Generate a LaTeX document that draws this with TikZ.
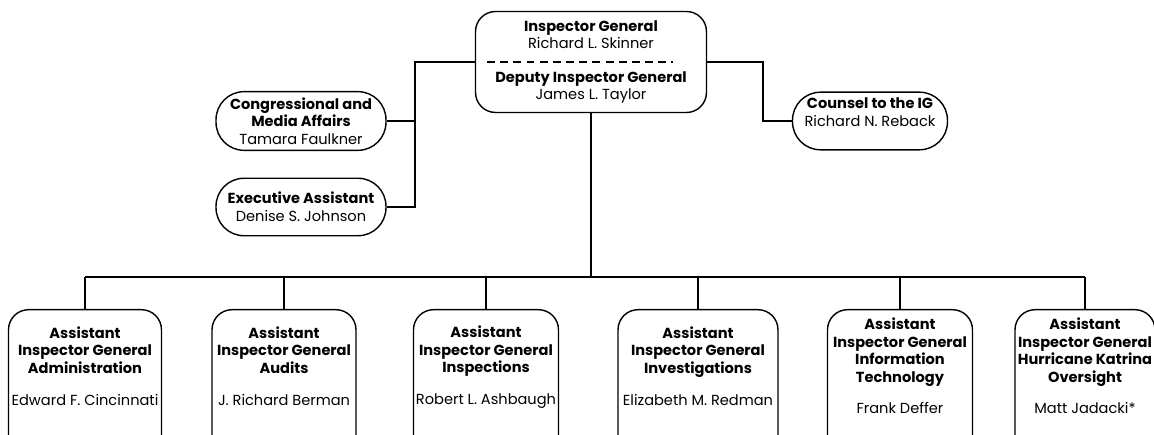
\documentclass[tikz,border=0pt]{standalone}
\usepackage{fontspec}
\setmainfont{Poppins}
\begin{document}
\begin{tikzpicture}[x=0.02cm, y=-0.02cm, line width=0.8pt,
	every node/.style={font=\fontsize{8.3}{10}\selectfont, align=center},
	headbox/.style={draw, rounded corners=0.4cm, minimum width=4.62cm, minimum height=2.02cm},
	pillbox/.style={draw, rounded corners=0.56cm, minimum width=#1, minimum height=1.15cm},
	lowbox/.style={draw, rounded corners=0.4cm, minimum width=#1, minimum height=3cm, anchor=north}]
	\useasboundingbox (0,0) rectangle (1154,435);
	\clip (0,0) rectangle (1154,435);
	
	% top of the office
	\node[headbox] (ig) at (591,62) {\textbf{Inspector General}\\Richard L. Skinner\\[9pt]
		\textbf{Deputy Inspector General}\\James L. Taylor};
	\draw [dash pattern=on 4.5pt off 3pt] (487,62) -- (673,62);
	
	\node[pillbox=3.4cm] (cma) at (301,121) {\textbf{Congressional and}\\\textbf{Media Affairs}\\Tamara Faulkner};
	\node[pillbox=3.4cm] (exa) at (301,207) {\textbf{Executive Assistant}\\Denise S. Johnson};
	\node[pillbox=3.1cm] (cig) at (870,121) {\textbf{Counsel to the IG}\\Richard N. Reback\\\mbox{}};
	
	\coordinate (lbar) at (415,0);
	\coordinate (rbar) at (763,0);
	\coordinate (bus) at (0,277);
	\draw (ig.west) -| (exa.east -| lbar) -- (exa.east);
	\draw (cma.east) -- (cma.east -| lbar);
	\draw (ig.east) -| (cig.west -| rbar) -- (cig.west);
	
	% assistant inspectors general
	\node[lowbox=3.06cm] (adm) at (85,309) {};
	\node[lowbox=2.88cm] (aud) at (284,309) {};
	\node[lowbox=2.9cm] (ins) at (486,309) {};
	\node[lowbox=3.2cm] (inv) at (698,309) {};
	\node[lowbox=2.9cm] (its) at (900,309) {};
	\node[lowbox=2.8cm] (hko) at (1085,309) {};
	
	\node (admt) at (85,366) {\textbf{Assistant}\\\textbf{Inspector General}\\\textbf{Administration}\\[8pt]Edward F. Cincinnati};
	\node (audt) at (284,366) {\textbf{Assistant}\\\textbf{Inspector General}\\\textbf{Audits}\\[8pt]J. Richard Berman};
	\node (inst) at (486,367) {\textbf{Assistant}\\\textbf{Inspector General}\\\textbf{Inspections}\\[8pt]Robert L. Ashbaugh};
	\node (invt) at (698,366) {\textbf{Assistant}\\\textbf{Inspector General}\\\textbf{Investigations}\\[8pt]Elizabeth M. Redman};
	\node (itst) at (900,366) {\textbf{Assistant}\\\textbf{Inspector General}\\\textbf{Information}\\\textbf{Technology}\\[8pt]Frank Deffer};
	\node (hkot) at (1085,366) {\textbf{Assistant}\\\textbf{Inspector General}\\\textbf{Hurricane Katrina}\\\textbf{Oversight}\\[8pt]Matt Jadacki*};
	
	\draw (ig.south) -- (ig.south |- bus);
	\draw (adm.north |- bus) -- (hko.north |- bus);
	\foreach \b in {adm,aud,ins,inv,its,hko}
	\draw (\b.north |- bus) -- (\b.north);
\end{tikzpicture}
\end{document}
